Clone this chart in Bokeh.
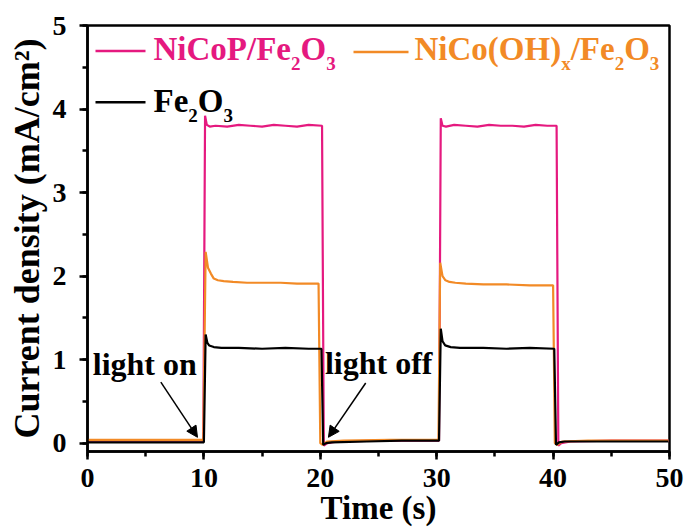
from bokeh.plotting import figure
from bokeh.models import Range1d, Label, Arrow, NormalHead, SingleIntervalTicker
from bokeh.embed import file_html
from bokeh.resources import INLINE

# ---- data ----
t_nicop = [0, 5, 9.95, 10.1, 10.25, 10.5, 11, 12, 13, 14, 15, 16, 17, 18, 19,
           20.15, 20.3, 20.6, 21.5, 25,
           30.2, 30.35, 30.5, 30.8, 31.5, 32.5, 33.5, 34.5, 35.5, 36.5, 37.5, 38.5, 39.5,
           40.3, 40.45, 40.7, 41.5, 45, 49.9]
j_nicop = [0.03, 0.03, 0.03, 3.92, 3.81, 3.79, 3.80, 3.79, 3.81, 3.80, 3.79, 3.81, 3.80, 3.79, 3.81,
           3.80, -0.03, 0.00, 0.02, 0.03,
           0.03, 3.89, 3.80, 3.79, 3.81, 3.80, 3.79, 3.81, 3.80, 3.80, 3.79, 3.81, 3.80,
           3.80, -0.03, 0.00, 0.02, 0.03, 0.03]

t_ohx = [0, 5, 9.95, 10.15, 10.35, 10.6, 10.85, 11.2, 11.7, 12.5,
         13.7, 15, 16.6, 18, 19.85, 20.0, 20.2, 20.6, 22, 26,
         30.15, 30.3, 30.5, 30.75, 31.1, 31.6, 32.5, 34, 36, 38,
         40.0, 40.15, 40.35, 40.8, 43, 49.9]
j_ohx = [0.04, 0.04, 0.04, 2.29, 2.10, 2.03, 1.97, 1.95, 1.94, 1.93,
         1.92, 1.92, 1.92, 1.91, 1.91, 0.0, -0.02, 0.02, 0.03, 0.04,
         0.04, 2.16, 2.00, 1.95, 1.93, 1.92, 1.91, 1.90, 1.90, 1.89,
         1.89, 0.0, -0.02, 0.02, 0.03, 0.03]

t_fe = [0, 5, 10.0, 10.15, 10.3, 10.45, 10.85, 11.5, 13, 15,
        17, 19, 20.1, 20.25, 20.5, 21, 24, 27, 30.2, 30.35,
        30.5, 30.73, 31.2, 32, 34, 36, 38, 40.1, 40.25, 40.5,
        41, 45, 49.9]
j_fe = [0.01, 0.01, 0.01, 1.30, 1.20, 1.17, 1.15, 1.14, 1.14, 1.13,
        1.14, 1.13, 1.13, -0.02, 0.0, 0.01, 0.02, 0.03, 0.03, 1.37,
        1.22, 1.17, 1.15, 1.14, 1.14, 1.13, 1.14, 1.13, -0.02, 0.01,
        0.02, 0.02, 0.02]

x_label = "Time (s)"
y_label = "Current density (mA/cm\u00b2)"

# ---- styling ----
FONT = "Liberation Serif"
C_NICOP = "#E5197F"
C_OHX = "#F28A26"
C_FE = "#000000"

p = figure(width=686, height=529, output_backend="svg", toolbar_location=None,
           x_range=Range1d(0, 50), y_range=Range1d(-0.1, 5),
           min_border_left=87, min_border_right=17, min_border_top=25, min_border_bottom=78)
p.xgrid.visible = False
p.ygrid.visible = False
p.outline_line_color = "black"
p.outline_line_width = 2.5
p.outline_line_alpha = 1.0
p.background_fill_color = "white"
p.border_fill_color = "white"

p.line(t_nicop, j_nicop, line_color=C_NICOP, line_width=2.2)
p.line(t_ohx, j_ohx, line_color=C_OHX, line_width=2.2)
p.line(t_fe, j_fe, line_color=C_FE, line_width=2.2)

p.xaxis.ticker = SingleIntervalTicker(interval=10, num_minor_ticks=2)
p.yaxis.ticker = SingleIntervalTicker(interval=1, num_minor_ticks=2)
for ax in (p.xaxis[0], p.yaxis[0]):
    ax.axis_line_width = 2.5
    ax.major_tick_line_width = 2.5
    ax.minor_tick_line_width = 2.5
    ax.major_tick_out = 8
    ax.major_tick_in = 0
    ax.minor_tick_out = 5
    ax.minor_tick_in = 0
    ax.major_label_text_font = FONT
    ax.major_label_text_font_style = "bold"
    ax.major_label_text_font_size = "28px"
    ax.major_label_text_color = "black"
    ax.axis_label_text_font = FONT
    ax.axis_label_text_font_style = "bold"
    ax.axis_label_text_color = "black"

p.xaxis.axis_label = x_label
p.yaxis.axis_label = y_label
p.xaxis.axis_label_text_font_size = "33px"
p.yaxis.axis_label_text_font_size = "36px"
p.xaxis.major_label_standoff = 9
p.xaxis.axis_label_standoff = 0
p.yaxis.major_label_standoff = 13
p.yaxis.axis_label_standoff = 3

# ---- annotations ----
p.add_layout(Label(x=0.45, y=0.95, text="light on", text_font=FONT, text_font_style="bold",
                   text_font_size="32px", text_baseline="alphabetic", text_color="black"))
p.add_layout(Label(x=20.4, y=0.96, text="light off", text_font=FONT, text_font_style="bold",
                   text_font_size="32px", text_baseline="alphabetic", text_color="black"))
p.add_layout(Arrow(x_start=6.3, y_start=0.73, x_end=9.45, y_end=0.07, line_width=1.5,
                   end=NormalHead(size=11, fill_color="black", line_color="black")))
p.add_layout(Arrow(x_start=23.9, y_start=0.72, x_end=20.7, y_end=0.07, line_width=1.5,
                   end=NormalHead(size=11, fill_color="black", line_color="black")))

# ---- legend (drawn by hand so that sub-scripts are real sub-scripts) ----
ADV = {'N': .722, 'i': .278, 'C': .722, 'o': .5, 'P': .611, '/': .278, 'F': .611, 'e': .444,
       'O': .778, '(': .333, ')': .333, 'H': .778, '2': .5, '3': .5, 'x': .5}
FS, SS, SUB_DY = 33, 19, -10.5
RAISE = 0.3  # em, baseline correction


def rich(pieces, fx, fy, color):
    x = fx
    for txt, sub in pieces:
        size = SS if sub else FS
        p.add_layout(Label(x=x, y=fy + (SUB_DY if sub else 0) + RAISE * size,
                           x_units="screen", y_units="screen",
                           text=txt, text_font=FONT, text_font_style="bold",
                           text_font_size=f"{size}px", text_color=color,
                           text_baseline="alphabetic", text_align="left"))
        x += sum(ADV[c] for c in txt) * size


def swatch(x0, x1, fy, color):
    p.add_layout(Arrow(x_start=x0, y_start=fy, x_end=x1, y_end=fy, start_units="screen",
                       end_units="screen", end=None, line_color=color, line_width=2.5))


swatch(8, 58, 400.5, C_NICOP)
rich([("NiCoP/Fe", False), ("2", True), ("O", False), ("3", True)], 66, 392.5, C_NICOP)
swatch(266, 321, 399.5, C_OHX)
rich([("NiCo(OH)", False), ("x", True), ("/Fe", False), ("2", True), ("O", False), ("3", True)],
     327, 392.5, C_OHX)
swatch(8, 58, 349.3, C_FE)
rich([("Fe", False), ("2", True), ("O", False), ("3", True)], 66, 341, C_FE)

open("out.html", "w").write(file_html(p, INLINE))
